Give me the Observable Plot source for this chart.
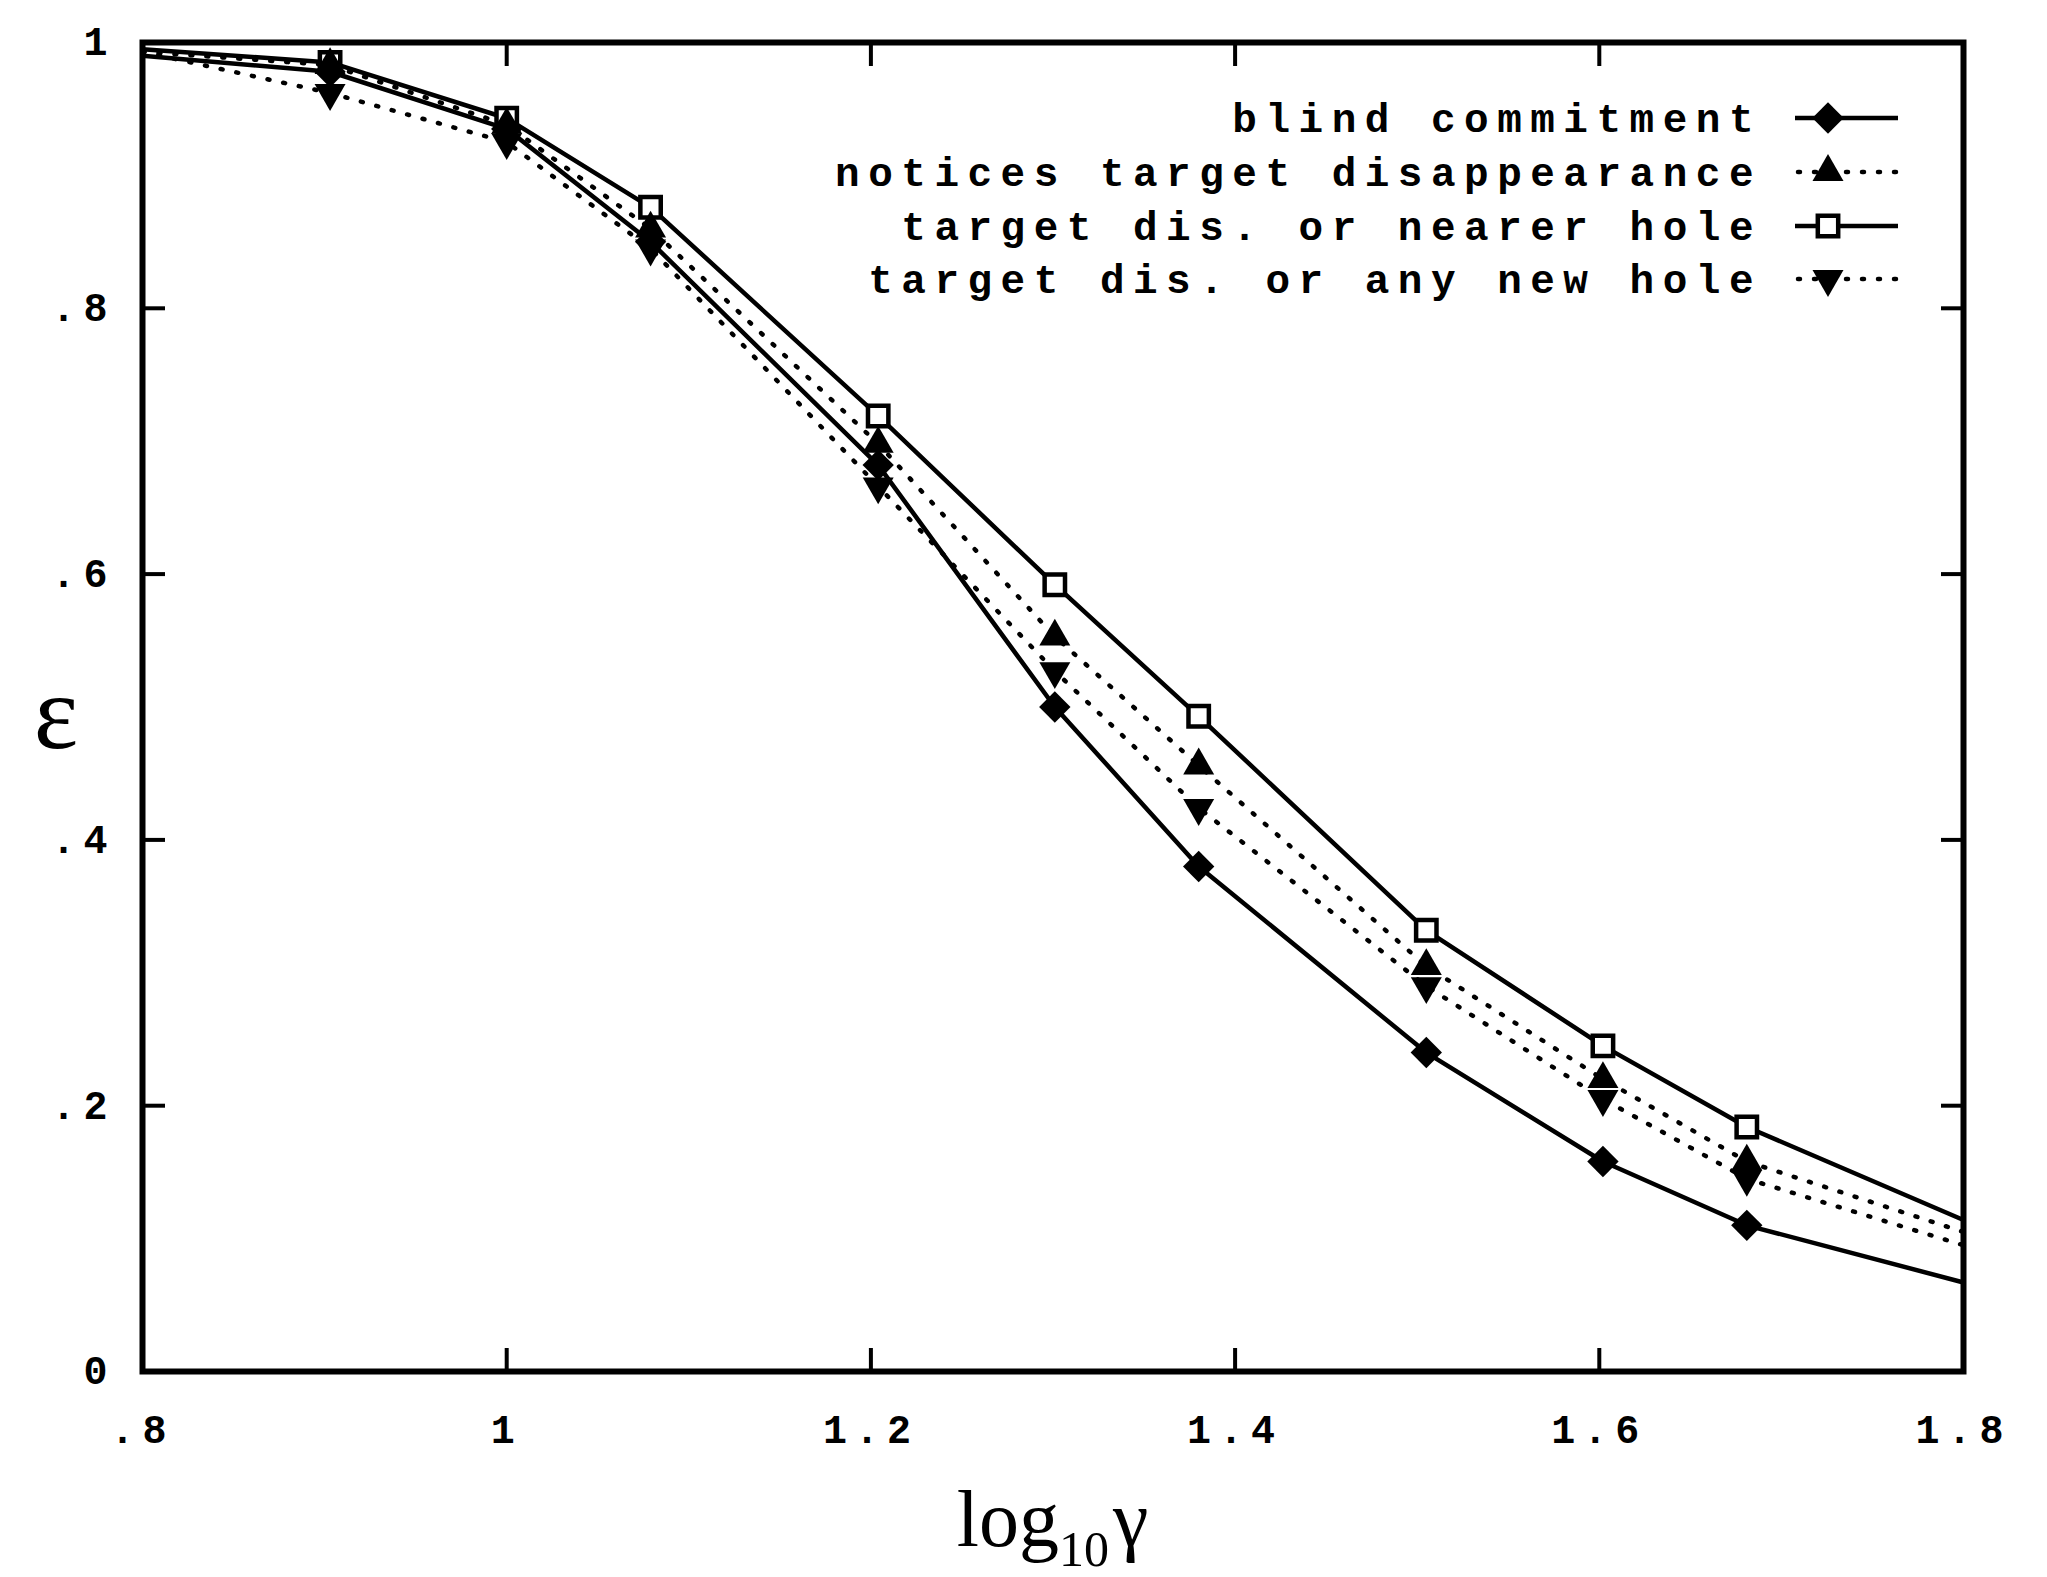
<!DOCTYPE html>
<html>
<head>
<meta charset="utf-8">
<script src="https://cdn.jsdelivr.net/npm/d3@7"></script>
<script src="https://cdn.jsdelivr.net/npm/@observablehq/plot@0.6"></script>
<style>
  html, body { margin: 0; padding: 0; background: #fff; }
  #chart svg { display: block; }
  #chart g[aria-label="x-axis tick label"] text,
  #chart g[aria-label="y-axis tick label"] text { letter-spacing: 8px; }
</style>
</head>
<body>
<div id="chart"></div>
<script>
// ---- data ----
const xValues = [0.8, 0.903, 1.0, 1.079, 1.204, 1.301, 1.38, 1.505, 1.602, 1.681, 1.8];
const blindCommitment = [0.990, 0.978, 0.935, 0.850, 0.682, 0.500, 0.380, 0.240, 0.158, 0.110, 0.067];
const noticesDisappearance = [0.993, 0.983, 0.938, 0.860, 0.698, 0.553, 0.456, 0.305, 0.220, 0.158, 0.105];
const nearerHole = [0.995, 0.985, 0.943, 0.876, 0.719, 0.592, 0.493, 0.332, 0.245, 0.184, 0.114];
const anyNewHole = [0.993, 0.962, 0.925, 0.845, 0.666, 0.527, 0.424, 0.290, 0.205, 0.145, 0.095];

const seriesNames = [
  "blind commitment",
  "notices target disappearance",
  "target dis. or nearer hole",
  "target dis. or any new hole"
];

const xTicks = [0.8, 1.0, 1.2, 1.4, 1.6, 1.8];
const xTickLabels = [".8", "1", "1.2", "1.4", "1.6", "1.8"];
const yTicks = [0, 0.2, 0.4, 0.6, 0.8, 1.0];
const yTickLabels = ["0", ".2", ".4", ".6", ".8", "1"];

const yTitle = "ε";
const xTitleMain = "log";
const xTitleSub = "10";
const xTitleSym = "γ";

// ---- build table ----
const seriesValues = [blindCommitment, noticesDisappearance, nearerHole, anyNewHole];
const rows = [];
seriesValues.forEach((vals, s) => {
  vals.forEach((v, i) => {
    rows.push({series: seriesNames[s], x: xValues[i], y: v, marker: i > 0 && i < vals.length - 1});
  });
});
const of = (name) => rows.filter(d => d.series === name);
const mk = (name) => rows.filter(d => d.series === name && d.marker);

const W = 2047, H = 1577;
const mL = 142, mR = 84, mT = 42, mB = 206;
const lineW = 4.5;
const dotDash = "2 14";

const chart = Plot.plot({
  width: W,
  height: H,
  marginLeft: mL,
  marginRight: mR,
  marginTop: mT,
  marginBottom: mB,
  x: {domain: [0.8, 1.8]},
  y: {domain: [0, 1]},
  style: {fontFamily: "'Liberation Mono', monospace", fontWeight: "bold", color: "black", background: "white", overflow: "visible"},
  marks: [
    Plot.axisX(xTicks, {anchor: "bottom", tickSize: -23, tickPadding: 66, strokeWidth: 4,
      tickFormat: d => xTickLabels[xTicks.indexOf(d)], fontSize: 40, label: null}),
    Plot.axisX(xTicks, {anchor: "top", tickSize: -23, strokeWidth: 4, tickFormat: () => "", label: null}),
    Plot.axisY(yTicks, {anchor: "left", tickSize: -23, tickPadding: 50, strokeWidth: 4,
      tickFormat: d => yTickLabels[yTicks.indexOf(d)], fontSize: 40, label: null}),
    Plot.axisY(yTicks, {anchor: "right", tickSize: -23, strokeWidth: 4, tickFormat: () => "", label: null}),
    Plot.line(of(seriesNames[0]), {x: "x", y: "y", stroke: "black", strokeWidth: lineW, strokeLinejoin: "round"}),
    Plot.line(of(seriesNames[2]), {x: "x", y: "y", stroke: "black", strokeWidth: lineW, strokeLinejoin: "round"}),
    Plot.line(of(seriesNames[1]), {x: "x", y: "y", stroke: "black", strokeWidth: lineW, strokeDasharray: dotDash, strokeLinecap: "round"}),
    Plot.line(of(seriesNames[3]), {x: "x", y: "y", stroke: "black", strokeWidth: lineW, strokeDasharray: dotDash, strokeLinecap: "round"}),
    Plot.dot(mk(seriesNames[2]), {x: "x", y: "y", symbol: "square", r: 11.5, fill: "white", stroke: "black", strokeWidth: 4.5}),
    Plot.dot(mk(seriesNames[0]), {x: "x", y: "y", symbol: "square", rotate: 45, r: 12.5, fill: "black"}),
    Plot.dot(mk(seriesNames[1]), {x: "x", y: "y", symbol: "triangle", r: 11.5, fill: "black"}),
    Plot.dot(mk(seriesNames[3]), {x: "x", y: "y", symbol: "triangle", rotate: 180, r: 11.5, fill: "black"}),
    Plot.frame({stroke: "black", strokeWidth: 6})
  ]
});
document.getElementById("chart").appendChild(chart);

// ---- legend & titles (inside the SVG) ----
const svg = d3.select(chart);
const legend = svg.append("g").attr("class", "legend");
const rowY = [118, 172, 226, 279];
const textRight = 1753;
const lineX1 = 1795, lineX2 = 1898, markX = 1828;
const styles = [
  {dash: null, sym: "diamond"},
  {dash: dotDash, sym: "up"},
  {dash: null, sym: "square"},
  {dash: dotDash, sym: "down"}
];
seriesNames.forEach((name, i) => {
  const y = rowY[i];
  legend.append("text")
    .attr("x", textRight + 9).attr("y", y + 14)
    .attr("text-anchor", "end")
    .attr("font-family", "'Liberation Mono', monospace")
    .attr("font-weight", "bold")
    .attr("font-size", 41)
    .attr("letter-spacing", "8.5px")
    .attr("fill", "black")
    .text(name);
  const st = styles[i];
  const ln = legend.append("line")
    .attr("x1", st.dash ? lineX1 + 3 : lineX1).attr("x2", lineX2)
    .attr("y1", y).attr("y2", y)
    .attr("stroke", "black").attr("stroke-width", lineW);
  if (st.dash) ln.attr("stroke-dasharray", dotDash).attr("stroke-linecap", "round");
  let sym;
  if (st.sym === "diamond") sym = d3.symbol(d3.symbolSquare, 12.5 * 12.5 * Math.PI);
  else if (st.sym === "square") sym = d3.symbol(d3.symbolSquare, 11.5 * 11.5 * Math.PI);
  else sym = d3.symbol(d3.symbolTriangle, 11.5 * 11.5 * Math.PI);
  const rot = st.sym === "diamond" ? 45 : st.sym === "down" ? 180 : 0;
  legend.append("path")
    .attr("d", sym())
    .attr("transform", `translate(${markX},${y}) rotate(${rot})`)
    .attr("fill", st.sym === "square" ? "white" : "black")
    .attr("stroke", st.sym === "square" ? "black" : "none")
    .attr("stroke-width", 4.5);
});

// y title
svg.append("text")
  .attr("x", 56).attr("y", 748)
  .attr("text-anchor", "middle")
  .attr("font-family", "'Liberation Serif', serif")
  .attr("font-weight", "normal")
  .attr("font-size", 106)
  .attr("fill", "black")
  .text(yTitle);

// x title
const xt = svg.append("text")
  .attr("x", (mL + (W - mR)) / 2).attr("y", 1546)
  .attr("text-anchor", "middle")
  .attr("font-family", "'Liberation Serif', serif")
  .attr("font-weight", "normal")
  .attr("font-size", 80)
  .attr("fill", "black");
xt.append("tspan").text(xTitleMain);
xt.append("tspan").attr("font-size", 50).attr("dy", 20).text(xTitleSub);
xt.append("tspan").attr("dy", -20).attr("dx", 4).text(xTitleSym);
</script>
</body>
</html>
